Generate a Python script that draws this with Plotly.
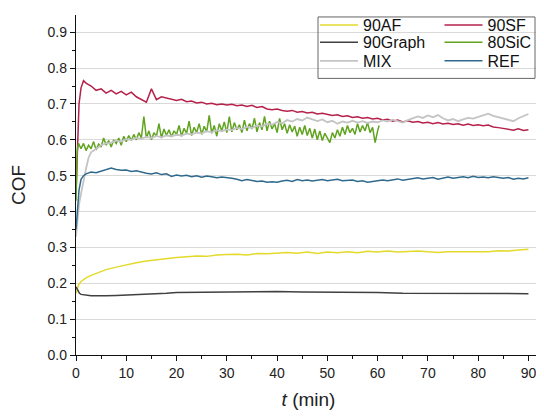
import plotly.graph_objects as go

# ---------------- data ----------------
t_af = [0, 0.5, 1, 2, 3, 4, 5, 6, 8, 10, 12, 14, 16, 18, 20, 22, 24, 26, 28, 30,
        32, 34, 36, 38, 40, 42, 44, 46, 48, 50, 52, 54, 56, 58, 60, 62, 64, 66, 68, 70,
        72, 74, 76, 78, 80, 82, 84, 86, 88, 90]
cof_af = [0.172, 0.195, 0.205, 0.215, 0.222, 0.228, 0.234, 0.238, 0.245, 0.252,
          0.257, 0.262, 0.266, 0.270, 0.272, 0.274, 0.276, 0.275, 0.279, 0.280,
          0.281, 0.279, 0.283, 0.282, 0.285, 0.286, 0.284, 0.287, 0.283, 0.287,
          0.285, 0.288, 0.285, 0.289, 0.287, 0.290, 0.287, 0.288, 0.290, 0.288,
          0.286, 0.288, 0.288, 0.287, 0.289, 0.288, 0.291, 0.290, 0.293, 0.295]

t_graph = [0, 0.3, 0.7, 1, 2, 3, 4, 5, 6, 8, 10, 12, 15, 18, 20, 25, 30, 35, 40, 45,
           50, 55, 60, 65, 70, 75, 80, 85, 90]
cof_graph = [0.190, 0.180, 0.172, 0.169, 0.166, 0.165, 0.165, 0.164, 0.165, 0.166,
             0.167, 0.168, 0.170, 0.172, 0.174, 0.175, 0.176, 0.176, 0.177, 0.176,
             0.176, 0.176, 0.174, 0.172, 0.172, 0.171, 0.170, 0.171, 0.171]

t_ref = [0, 0.3, 0.6, 1, 1.5, 2] + list(range(3, 91))
cof_ref = [0.350, 0.420, 0.460, 0.490, 0.500, 0.505,
           0.510, 0.508, 0.512, 0.518, 0.521, 0.517, 0.515, 0.516, 0.512, 0.514,
           0.510, 0.507, 0.505, 0.508, 0.503, 0.505, 0.498, 0.502, 0.499, 0.501,
           0.497, 0.500, 0.496, 0.499, 0.497, 0.494, 0.496, 0.495, 0.493, 0.490,
           0.486, 0.489, 0.487, 0.484, 0.485, 0.482, 0.483, 0.482, 0.485, 0.487,
           0.484, 0.489, 0.486, 0.488, 0.485, 0.487, 0.489, 0.486, 0.488, 0.490,
           0.486, 0.487, 0.488, 0.484, 0.486, 0.482, 0.484, 0.486, 0.488, 0.486,
           0.489, 0.491, 0.487, 0.490, 0.492, 0.494, 0.491, 0.493, 0.495, 0.490,
           0.494, 0.496, 0.493, 0.495, 0.497, 0.494, 0.498, 0.495, 0.496, 0.494,
           0.497, 0.495, 0.493, 0.495, 0.490, 0.493, 0.491, 0.494]

t_sf = [0, 0.3, 0.6, 1, 1.5, 2] + list(range(3, 91))
cof_sf = [0.450, 0.600, 0.700, 0.745, 0.765, 0.758,
          0.750, 0.738, 0.742, 0.730, 0.738, 0.728, 0.735, 0.725, 0.733, 0.720,
          0.712, 0.705, 0.742, 0.712, 0.720, 0.716, 0.713, 0.710, 0.713, 0.706,
          0.708, 0.703, 0.705, 0.700, 0.702, 0.698, 0.700, 0.697, 0.699, 0.695,
          0.697, 0.693, 0.696, 0.690, 0.693, 0.686, 0.684, 0.686, 0.682, 0.680,
          0.682, 0.677, 0.679, 0.675, 0.677, 0.672, 0.674, 0.671, 0.668, 0.670,
          0.665, 0.667, 0.662, 0.664, 0.660, 0.662, 0.658, 0.660, 0.655, 0.657,
          0.652, 0.655, 0.650, 0.653, 0.649, 0.651, 0.647, 0.649, 0.645, 0.648,
          0.644, 0.646, 0.643, 0.645, 0.641, 0.644, 0.640, 0.642, 0.639, 0.641,
          0.636, 0.634, 0.632, 0.630, 0.627, 0.631, 0.626, 0.628]

t_mix = [0, 0.3, 0.6, 1, 1.5, 2, 2.5, 3] + list(range(4, 91))
cof_mix = [0.330, 0.380, 0.420, 0.450, 0.490, 0.520, 0.550, 0.565,
           0.575, 0.585, 0.590, 0.592, 0.598, 0.595, 0.602, 0.600, 0.605, 0.603,
           0.608, 0.605, 0.611, 0.607, 0.612, 0.610, 0.614, 0.612, 0.617, 0.615,
           0.620, 0.618, 0.624, 0.621, 0.627, 0.624, 0.629, 0.627, 0.633, 0.630,
           0.636, 0.633, 0.640, 0.637, 0.645, 0.642, 0.650, 0.646, 0.655, 0.651,
           0.658, 0.654, 0.662, 0.656, 0.652, 0.657, 0.649, 0.653, 0.645, 0.651,
           0.648, 0.653, 0.648, 0.652, 0.647, 0.651, 0.649, 0.654, 0.651, 0.656,
           0.652, 0.648, 0.655, 0.660, 0.665, 0.661, 0.668, 0.663, 0.669, 0.660,
           0.654, 0.658, 0.652, 0.657, 0.661, 0.659, 0.664, 0.669, 0.673, 0.667,
           0.663, 0.658, 0.654, 0.652, 0.660, 0.667, 0.672]

t_sic = [0, 0.25] + [i * 0.5 for i in range(1, 121)] + [60.3]
cof_sic = [0.430, 0.570,
           0.590, 0.575, 0.590, 0.570, 0.585, 0.575, 0.595, 0.572, 0.588, 0.580,
           0.605, 0.585, 0.598, 0.580, 0.600, 0.590, 0.605, 0.585, 0.610, 0.595,
           0.612, 0.598, 0.615, 0.600, 0.620, 0.605, 0.665, 0.605, 0.625, 0.600,
           0.620, 0.610, 0.645, 0.605, 0.630, 0.612, 0.628, 0.608, 0.625, 0.615,
           0.640, 0.610, 0.632, 0.618, 0.652, 0.612, 0.635, 0.620, 0.645, 0.615,
           0.638, 0.622, 0.668, 0.618, 0.640, 0.610, 0.645, 0.625, 0.650, 0.620,
           0.665, 0.622, 0.648, 0.628, 0.642, 0.620, 0.655, 0.625, 0.645, 0.630,
           0.660, 0.622, 0.648, 0.628, 0.665, 0.625, 0.652, 0.630, 0.645, 0.620,
           0.660, 0.628, 0.645, 0.618, 0.642, 0.622, 0.638, 0.610, 0.635, 0.615,
           0.640, 0.612, 0.632, 0.605, 0.630, 0.600, 0.625, 0.598, 0.618, 0.605,
           0.592, 0.620, 0.605, 0.628, 0.610, 0.635, 0.615, 0.640, 0.620, 0.632,
           0.615, 0.645, 0.622, 0.640, 0.625, 0.648, 0.620, 0.635, 0.592, 0.625,
           0.640]

x_ticks = [0, 10, 20, 30, 40, 50, 60, 70, 80, 90]

# name, t, cof, colour, width, legend id (2 columns x 3 rows box)
series = [
    ("90AF", t_af, cof_af, "#E3DA2C", 1.5, "legend"),
    ("90SF", t_sf, cof_sf, "#B5214A", 1.5, "legend2"),
    ("90Graph", t_graph, cof_graph, "#404040", 1.5, "legend3"),
    ("80SiC", t_sic, cof_sic, "#5FA31F", 1.5, "legend4"),
    ("MIX", t_mix, cof_mix, "#C4C4C4", 1.8, "legend5"),
    ("REF", t_ref, cof_ref, "#2F6A8E", 1.5, "legend6"),
]

fig = go.Figure()
for name, tx, cy, col, lw, lg in series:
    fig.add_trace(go.Scatter(x=tx, y=cy, mode="lines", name=name,
                             line=dict(color=col, width=lw), legend=lg))

FONT = "Liberation Sans, Arial, sans-serif"

# plot-area geometry (figure pixels)
L, R, T, B = 68, 11, 0, 70
W, H = 544, 417
PW, PH = W - L - R, H - T - B


def px_x(p):
    return (p - L) / PW


def px_y(p):
    return 1 - (p - T) / PH


legend_common = dict(bgcolor="rgba(0,0,0,0)", borderwidth=0,
                     font=dict(family=FONT, size=16, color="#111"),
                     itemwidth=38, yanchor="top", xanchor="left")
col_x = [px_x(307), px_x(431.5)]
row_y = [px_y(-7.5), px_y(10.5), px_y(29.5)]
legends = {}
for i, key in enumerate(["legend", "legend2", "legend3", "legend4", "legend5", "legend6"]):
    legends[key] = dict(x=col_x[i % 2], y=row_y[i // 2], **legend_common)

fig.update_layout(
    width=W, height=H,
    margin=dict(l=L, r=R, t=T, b=B),
    paper_bgcolor="white", plot_bgcolor="white",
    font=dict(family=FONT, size=14, color="#222"),
    showlegend=True,
    **legends,
    xaxis=dict(range=[0, 92.5], tickvals=x_ticks,
               showgrid=False, zeroline=False, showline=True, linecolor="#111",
               linewidth=1.3, ticks="outside", ticklen=5, tickcolor="#111",
               tickfont=dict(size=14), automargin=False,
               minor=dict(ticks="outside", ticklen=3, dtick=5, tickcolor="#111"),
               title=dict(text="<i>t</i> (min)", font=dict(size=19), standoff=12)),
    yaxis=dict(range=[0, 0.948], dtick=0.1, tick0=0, tickformat=".1f",
               showgrid=True, gridcolor="#D9D9D9", gridwidth=1, zeroline=False,
               showline=True, linecolor="#111", linewidth=1.3, ticks="outside",
               ticklen=5, tickcolor="#111", tickfont=dict(size=14), automargin=False,
               minor=dict(ticks="outside", ticklen=3, dtick=0.05, tickcolor="#111"),
               title=dict(text="COF", font=dict(size=19), standoff=21)),
    shapes=[dict(type="rect", xref="paper", yref="paper",
                 x0=px_x(310), x1=px_x(527), y0=px_y(64.7), y1=px_y(2),
                 line=dict(color="#666", width=1), fillcolor="rgba(0,0,0,0)")],
)

fig.write_html("out.html")
